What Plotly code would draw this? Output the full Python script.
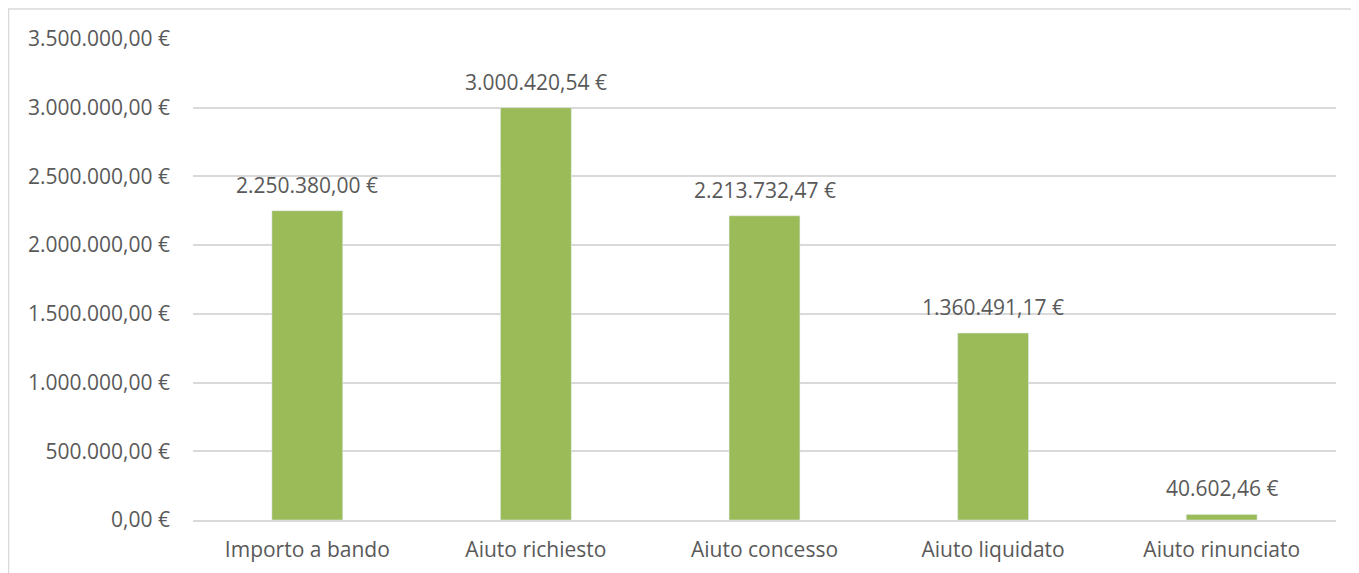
import plotly.graph_objects as go

# dati
categorie = ["Importo a bando", "Aiuto richiesto", "Aiuto concesso", "Aiuto liquidato", "Aiuto rinunciato"]
importi = [2250380.00, 3000420.54, 2213732.47, 1360491.17, 40602.46]

tick_valori = [0, 500000, 1000000, 1500000, 2000000, 2500000, 3000000, 3500000]
tick_testi = ["0,00 €", "500.000,00 €", "1.000.000,00 €", "1.500.000,00 €", "2.000.000,00 €",
              "2.500.000,00 €", "3.000.000,00 €", "3.500.000,00 €"]


def euro(v):
    s = f"{v:,.2f}".replace(",", "X").replace(".", ",").replace("X", ".")
    return s + " €"


FONT = "Open Sans"
FS = 21
GRIGIO = "#595959"
W, H = 1359, 573
# la pagina aggiunge 8px di margine al body
L, R, T, B = 185, 31, 31, 61

fig = go.Figure()
fig.add_trace(go.Bar(
    x=categorie,
    y=importi,
    marker_color="#9BBB59",
    width=0.31,
    hoverinfo="x+y",
))

for c, v in zip(categorie, importi):
    fig.add_annotation(
        x=c, y=v, text=euro(v), showarrow=False,
        yanchor="bottom", yshift=10,
        font=dict(family=FONT, size=FS, color=GRIGIO),
    )

# cornice esterna del grafico (stile Excel)
pw, ph = W - L - R, H - T - B
fig.add_shape(
    type="rect", xref="paper", yref="paper",
    x0=(0.5 - L) / pw, x1=(1350 - L) / pw,
    y0=-(B + 20) / ph, y1=(H - 1 - B) / ph,
    line=dict(color="#d9d9d9", width=1.5), fillcolor="rgba(0,0,0,0)",
    layer="below",
)

fig.update_layout(
    width=W, height=H,
    margin=dict(l=L, r=R, t=T, b=B),
    plot_bgcolor="white", paper_bgcolor="white",
    showlegend=False,
    font=dict(family=FONT, size=FS, color=GRIGIO),
)
fig.update_xaxes(
    showgrid=False, showline=True, linecolor="#d9d9d9", linewidth=1.5,
    ticks="", ticklabelstandoff=10,
    tickfont=dict(family=FONT, size=FS, color=GRIGIO),
)
fig.update_yaxes(
    range=[0, 3500000], tickvals=tick_valori, ticktext=tick_testi,
    showgrid=True, gridcolor="#d9d9d9", gridwidth=1.5, zeroline=False,
    showline=False, ticks="", ticklabelstandoff=22,
    tickfont=dict(family=FONT, size=FS, color=GRIGIO),
)

fig.write_html("out.html")
